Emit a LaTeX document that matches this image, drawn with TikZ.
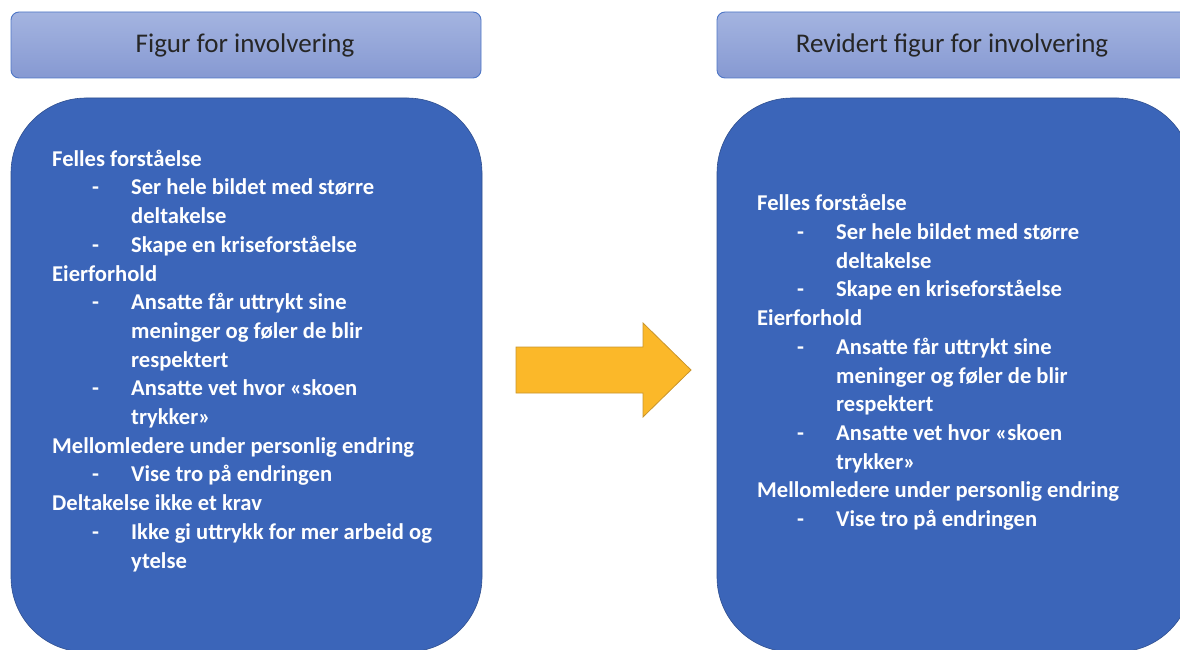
\documentclass[tikz,border=0pt]{standalone}
\usepackage{fontspec}
\setmainfont{Carlito}
\definecolor{hdtop}{HTML}{A4B4E0}
\definecolor{hdbot}{HTML}{8699D2}
\definecolor{hdline}{HTML}{4E76C6}
\definecolor{panel}{HTML}{3B65B9}
\definecolor{panelline}{HTML}{2F4F8F}
\definecolor{arrowfill}{HTML}{FBB829}
\definecolor{arrowline}{HTML}{C9952C}
\newcommand{\bul}[1]{\makebox[79pt][l]{\hspace*{40pt}-}#1}
\newcommand{\cont}[1]{\hspace*{79pt}#1}
\begin{document}
\begin{tikzpicture}[x=1pt,y=-1pt,
  header/.style={draw=hdline,line width=0.9pt,rounded corners=8pt,top color=hdtop,bottom color=hdbot},
  panelbox/.style={draw=panelline,line width=0.6pt,fill=panel,rounded corners=75pt},
  headtext/.style={font=\fontsize{27}{32}\selectfont,text=black!85},
  bodytext/.style={font=\fontsize{22.6}{28.7}\selectfont\bfseries,text=white,align=left,inner sep=0pt,anchor=base west}]
\useasboundingbox (0,0) rectangle (1180,650);
% header bars
\draw[header] (11,12) rectangle (481,78);
\draw[header] (717,12) rectangle (1192,78);
\node[headtext] (h1) at (245,45) {Figur for involvering};
\node[headtext] (h2) at (952,45) {Revidert figur for involvering};
% content panels
\draw[panelbox] (11,98) rectangle (482,652);
\draw[panelbox] (717,98) rectangle (1192,652);
% left panel list (placed by the baseline of its last line)
\node[bodytext] (l1) at (52,568) {Felles forståelse\\
\bul{Ser hele bildet med større}\\
\cont{deltakelse}\\
\bul{Skape en kriseforståelse}\\
Eierforhold\\
\bul{Ansatte får uttrykt sine}\\
\cont{meninger og føler de blir}\\
\cont{respektert}\\
\bul{Ansatte vet hvor «skoen}\\
\cont{trykker»}\\
Mellomledere under personlig endring\\
\bul{Vise tro på endringen}\\
Deltakelse ikke et krav\\
\bul{Ikke gi uttrykk for mer arbeid og}\\
\cont{ytelse}};
% right panel list
\node[bodytext] (r1) at (757,526.5) {Felles forståelse\\
\bul{Ser hele bildet med større}\\
\cont{deltakelse}\\
\bul{Skape en kriseforståelse}\\
Eierforhold\\
\bul{Ansatte får uttrykt sine}\\
\cont{meninger og føler de blir}\\
\cont{respektert}\\
\bul{Ansatte vet hvor «skoen}\\
\cont{trykker»}\\
Mellomledere under personlig endring\\
\bul{Vise tro på endringen}};
% block arrow between the panels
\draw[draw=arrowline,fill=arrowfill,line width=0.8pt,line join=miter]
  (516,347) -- (643,347) -- (643,323) -- (691,370) -- (643,417) -- (643,393) -- (516,393) -- cycle;
\end{tikzpicture}
\end{document}
